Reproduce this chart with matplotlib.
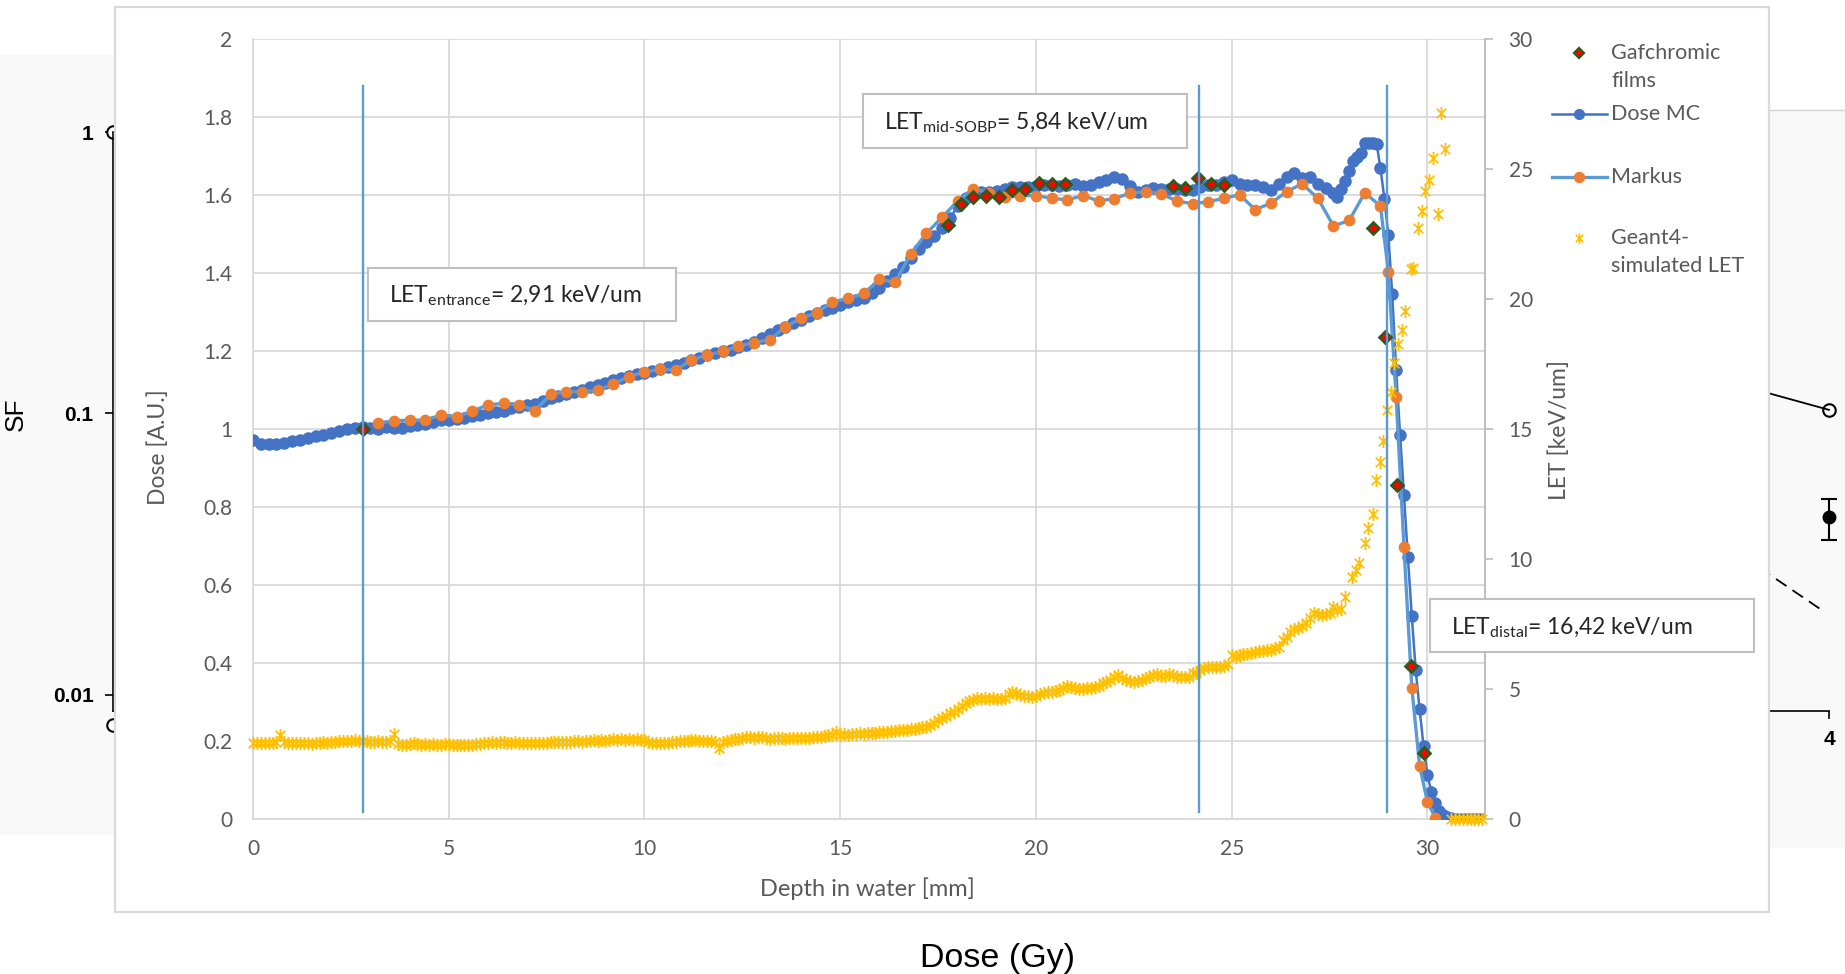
import numpy as np
import matplotlib
matplotlib.use("Agg")
import matplotlib.pyplot as plt
from matplotlib.path import Path
from matplotlib.patches import Rectangle
from matplotlib.lines import Line2D
from matplotlib.ticker import FuncFormatter

plt.rcParams['font.family'] = ['Lato', 'DejaVu Sans']
plt.rcParams['mathtext.fontset'] = 'custom'
plt.rcParams['mathtext.rm'] = 'Lato'
plt.rcParams['mathtext.it'] = 'Lato:italic'
plt.rcParams['mathtext.bf'] = 'Lato:bold'

# ------------------------------------------------------------------ data
# Monte Carlo dose (A.U.) vs depth in water (mm)
mc_depth_grid = np.round(np.arange(0.0, 27.61, 0.2), 1)
mc_dose_grid = [
    0.970, 0.962, 0.960, 0.962, 0.963, 0.968, 0.972, 0.975, 0.980, 0.985,
    0.990, 0.993, 0.998, 1.002, 1.004, 1.002, 1.000, 1.004, 1.003, 1.001,
    1.008, 1.010, 1.012, 1.018, 1.022, 1.023, 1.025, 1.028, 1.032, 1.035,
    1.040, 1.044, 1.046, 1.052, 1.056, 1.060, 1.063, 1.071, 1.078, 1.083,
    1.090, 1.094, 1.100, 1.108, 1.113, 1.118, 1.124, 1.129, 1.135, 1.140,
    1.144, 1.148, 1.153, 1.158, 1.163, 1.168, 1.175, 1.182, 1.188, 1.193,
    1.198, 1.203, 1.209, 1.214, 1.222, 1.232, 1.244, 1.253, 1.262, 1.270,
    1.279, 1.288, 1.296, 1.304, 1.310, 1.316, 1.325, 1.330, 1.336, 1.348,
    1.362, 1.378, 1.396, 1.415, 1.438, 1.462, 1.480, 1.495, 1.515, 1.540,
    1.570, 1.592, 1.604, 1.608, 1.606, 1.610, 1.615, 1.620, 1.621, 1.620,
    1.622, 1.624, 1.625, 1.622, 1.626, 1.628, 1.622, 1.625, 1.633, 1.638,
    1.645, 1.640, 1.622, 1.608, 1.612, 1.617, 1.614, 1.616, 1.614, 1.612,
    1.613, 1.620, 1.624, 1.626, 1.632, 1.638, 1.628, 1.624, 1.626, 1.620,
    1.612, 1.628, 1.646, 1.655, 1.644, 1.646, 1.628, 1.618, 1.605,
]
mc_depth_tail = [27.7, 27.8, 27.9, 28.0, 28.1, 28.2, 28.3, 28.4, 28.5, 28.6,
                 28.7, 28.8, 28.9, 29.0, 29.1, 29.2, 29.3, 29.4, 29.5, 29.6,
                 29.7, 29.8, 29.9, 30.0, 30.1, 30.2, 30.3, 30.4, 30.5, 30.6,
                 30.7, 30.8, 30.9, 31.0, 31.1, 31.2, 31.3, 31.4]
mc_dose_tail = [1.595, 1.615, 1.636, 1.662, 1.686, 1.697, 1.708, 1.732, 1.734, 1.733,
                1.731, 1.668, 1.590, 1.497, 1.345, 1.150, 0.985, 0.830, 0.670, 0.520,
                0.380, 0.280, 0.186, 0.112, 0.068, 0.039, 0.020, 0.010, 0.004, 0.001,
                0.0, 0.0, 0.0, 0.0, 0.0, 0.0, 0.0, 0.0]
mc_depth = np.concatenate([mc_depth_grid, mc_depth_tail])
mc_dose = np.concatenate([mc_dose_grid, mc_dose_tail])

# Markus chamber measurement
markus_depth = [3.2, 3.6, 4.0, 4.4, 4.8, 5.2, 5.6, 6.0, 6.4, 6.8,
                7.2, 7.6, 8.0, 8.4, 8.8, 9.2, 9.6, 10.0, 10.4, 10.8,
                11.2, 11.6, 12.0, 12.4, 12.8, 13.2, 13.6, 14.0, 14.4, 14.8,
                15.2, 15.6, 16.0, 16.4, 16.8, 17.2, 17.6, 18.0, 18.4, 18.8,
                19.2, 19.6, 20.0, 20.4, 20.8, 21.2, 21.6, 22.0, 22.4, 22.8,
                23.2, 23.6, 24.0, 24.4, 24.8, 25.2, 25.6, 26.0, 26.4, 26.8,
                27.2, 27.6, 28.0, 28.4, 28.8, 29.0, 29.2, 29.4, 29.6, 29.8,
                30.0, 30.2]
markus_dose = [1.015, 1.020, 1.022, 1.022, 1.035, 1.031, 1.045, 1.061, 1.065, 1.062,
               1.046, 1.088, 1.095, 1.095, 1.098, 1.115, 1.133, 1.146, 1.152, 1.151,
               1.176, 1.189, 1.198, 1.212, 1.221, 1.228, 1.262, 1.283, 1.298, 1.325,
               1.334, 1.347, 1.383, 1.375, 1.448, 1.501, 1.542, 1.584, 1.616, 1.605,
               1.593, 1.598, 1.598, 1.591, 1.587, 1.598, 1.584, 1.590, 1.604, 1.608,
               1.602, 1.584, 1.577, 1.582, 1.591, 1.600, 1.562, 1.578, 1.608, 1.628,
               1.591, 1.520, 1.534, 1.605, 1.571, 1.403, 1.082, 0.697, 0.336, 0.135,
               0.043, 0.002]

# Gafchromic film measurement
gaf_depth = [2.8, 17.76, 18.08, 18.4, 18.73, 19.06, 19.4, 19.73, 20.07, 20.4,
             20.73, 23.5, 23.81, 24.13, 24.47, 24.8, 28.61, 28.91, 29.23, 29.57,
             29.9]
gaf_dose = [1.000, 1.523, 1.576, 1.595, 1.597, 1.594, 1.612, 1.615, 1.631, 1.628,
            1.627, 1.623, 1.617, 1.644, 1.627, 1.624, 1.514, 1.234, 0.856, 0.391,
            0.169]

# Geant4 LET (keV/um), 0.1 mm bins up to 27.9 mm, then distal samples
let_depth_grid = np.round(np.arange(0.0, 27.95, 0.1), 1)
let_value_grid = [
    2.92, 2.90, 2.91, 2.89, 2.92, 2.90, 2.93, 3.22, 2.94, 2.91,
    2.90, 2.92, 2.89, 2.91, 2.90, 2.88, 2.90, 2.91, 2.93, 2.92,
    2.95, 2.96, 2.98, 2.97, 3.00, 2.99, 3.01, 2.98, 2.97, 2.98,
    2.96, 2.95, 2.98, 2.96, 2.94, 2.97, 3.26, 2.86, 2.82, 2.85,
    2.88, 2.90, 2.86, 2.84, 2.87, 2.85, 2.86, 2.84, 2.85, 2.87,
    2.86, 2.84, 2.83, 2.85, 2.83, 2.82, 2.84, 2.86, 2.88, 2.90,
    2.92, 2.94, 2.91, 2.93, 2.95, 2.92, 2.90, 2.93, 2.91, 2.90,
    2.92, 2.90, 2.91, 2.89, 2.90, 2.92, 2.94, 2.93, 2.95, 2.94,
    2.96, 2.95, 2.97, 2.98, 2.96, 3.00, 2.98, 3.01, 2.99, 3.02,
    3.00, 3.03, 3.05, 3.04, 3.06, 3.03, 3.05, 3.04, 3.06, 3.03,
    3.02, 2.95, 2.92, 2.90, 2.91, 2.89, 2.92, 2.94, 2.96, 2.98,
    3.00, 2.99, 3.01, 3.02, 3.00, 2.98, 2.97, 2.99, 2.96, 2.70,
    2.94, 2.98, 3.02, 3.05, 3.08, 3.12, 3.14, 3.13, 3.11, 3.14,
    3.15, 3.12, 3.08, 3.10, 3.11, 3.12, 3.08, 3.09, 3.10, 3.09,
    3.10, 3.12, 3.11, 3.14, 3.13, 3.15, 3.16, 3.20, 3.22, 3.34,
    3.22, 3.24, 3.23, 3.25, 3.26, 3.28, 3.27, 3.28, 3.30, 3.31,
    3.32, 3.33, 3.35, 3.36, 3.38, 3.41, 3.40, 3.42, 3.44, 3.46,
    3.48, 3.52, 3.54, 3.60, 3.68, 3.79, 3.86, 3.95, 4.05, 4.11,
    4.22, 4.34, 4.45, 4.52, 4.58, 4.63, 4.62, 4.64, 4.62, 4.63,
    4.61, 4.62, 4.64, 4.80, 4.88, 4.82, 4.76, 4.72, 4.70, 4.69,
    4.72, 4.78, 4.84, 4.88, 4.86, 4.90, 4.95, 5.02, 5.10, 5.08,
    5.04, 5.00, 4.99, 5.02, 5.01, 5.06, 5.12, 5.20, 5.24, 5.32,
    5.45, 5.53, 5.42, 5.32, 5.28, 5.27, 5.30, 5.34, 5.40, 5.46,
    5.53, 5.55, 5.50, 5.47, 5.56, 5.52, 5.46, 5.44, 5.46, 5.45,
    5.59, 5.62, 5.70, 5.78, 5.85, 5.84, 5.83, 5.85, 5.88, 5.95,
    6.29, 6.20, 6.30, 6.32, 6.35, 6.38, 6.42, 6.44, 6.45, 6.48,
    6.50, 6.55, 6.62, 6.88, 6.98, 7.19, 7.28, 7.32, 7.40, 7.51,
    7.70, 7.90, 7.86, 7.83, 7.88, 7.90, 8.15, 8.03, 8.05, 8.54,
]
let_depth_tail = [28.08, 28.17, 28.26, 28.41, 28.47, 28.61, 28.69, 28.79, 28.86, 28.97,
                  29.07, 29.15, 29.26, 29.35, 29.43, 29.58, 29.63, 29.75, 29.86, 29.94,
                  30.05, 30.13, 30.27, 30.35, 30.46, 30.6, 30.7, 30.8, 30.9, 31.0,
                  31.1, 31.2, 31.3, 31.4]
let_value_tail = [9.31, 9.55, 9.82, 10.62, 11.17, 11.72, 13.01, 13.71, 14.54, 15.72,
                  16.42, 17.52, 18.26, 18.81, 19.51, 21.15, 21.20, 22.72, 23.36, 24.15,
                  24.56, 25.40, 23.27, 27.13, 25.75, 0.0, 0.0, 0.0, 0.0, 0.0,
                  0.0, 0.0, 0.0, 0.0]
let_depth = np.concatenate([let_depth_grid, let_depth_tail])
let_value = np.concatenate([let_value_grid, let_value_tail])

# depths where LET is quoted, with the quoted text
let_marker_depths = [2.8, 24.17, 28.97]
let_notes = [r'LET$_{\text{entrance}}$= 2,91 keV/um',
             r'LET$_{\text{mid-SOBP}}$= 5,84 keV/um',
             r'LET$_{\text{distal}}$= 16,42 keV/um']

x_ticks = [0, 5, 10, 15, 20, 25, 30]
dose_ticks = [0, 0.2, 0.4, 0.6, 0.8, 1.0, 1.2, 1.4, 1.6, 1.8, 2.0]
let_ticks = [0, 5, 10, 15, 20, 25, 30]
legend_labels = [['Gafchromic', 'films'], ['Dose MC'], ['Markus'],
                 ['Geant4-', 'simulated LET']]

# survival-fraction panel underneath
sf_ticks = [0.01, 0.1, 1]
sf_tick_labels = ['0.01', '0.1', '1']
sf_open_dose = [0, 0, 4]
sf_open_sf = [1.0, 0.0078, 0.103]
sf_fit_dose = [3.8, 4.0]
sf_fit_sf = [0.125, 0.103]
sf_filled_dose = [4]
sf_filled_sf = [0.0428]
sf_filled_err = [[0.0073], [0.0069]]
sf_dash_dose = [3.8, 3.99]
sf_dash_sf = [0.031, 0.0197]

# ------------------------------------------------------------------ layout
W, H = 1845, 974
fig = plt.figure(figsize=(W / 100, H / 100), dpi=100)
fig.patch.set_facecolor('white')


def fx(px):
    return px / W


def fy(py):
    return 1 - py / H


def fig_box(x0, y0, x1, y1):
    return [x0 / W, 1 - y1 / H, (x1 - x0) / W, (y1 - y0) / H]


GRAY_TXT = '#595959'

# faint scanned background of the underlying figure
fig.add_artist(Rectangle((fx(0), fy(835)), fx(115), fy(55) - fy(835),
                         transform=fig.transFigure, facecolor='#f9f9f9',
                         edgecolor='none', zorder=-2))
fig.add_artist(Rectangle((fx(1769), fy(848)), fx(1845) - fx(1769), fy(110) - fy(848),
                         transform=fig.transFigure, facecolor='#f9f9f9',
                         edgecolor='none', zorder=-2))
fig.add_artist(Line2D([fx(1769), fx(1845)], [fy(110), fy(110)],
                      transform=fig.transFigure, color='#d4d4d4', lw=1.0, zorder=-1))

# survival-fraction axes
ax_sf = fig.add_axes(fig_box(113, 132, 1829, 711), zorder=0)
ax_sf.patch.set_visible(False)
ax_sf.set_yscale('log')
ax_sf.set_ylim(0.00877, 1.0)
ax_sf.set_xlim(0, 4)
ax_sf.set_yticks(sf_ticks)
ax_sf.set_yticklabels(sf_tick_labels)
ax_sf.yaxis.set_minor_locator(matplotlib.ticker.NullLocator())
ax_sf.set_xticks([1, 2, 3, 4])
ax_sf.set_xticklabels(['1', '2', '3', '4'])
for s in ['top', 'right']:
    ax_sf.spines[s].set_visible(False)
for s in ['left', 'bottom']:
    ax_sf.spines[s].set_linewidth(1.2)
ax_sf.tick_params(direction='out', length=6, width=1.2, pad=8,
                  labelsize=15, colors='black')
for lab in ax_sf.get_yticklabels() + ax_sf.get_xticklabels():
    lab.set_fontfamily('Liberation Sans')
    lab.set_fontweight('bold')
ax_sf.plot(sf_open_dose, sf_open_sf, ls='none', marker='o', ms=9, mfc='white',
           mec='black', mew=1.5, clip_on=False)
ax_sf.plot(sf_fit_dose, sf_fit_sf, color='black', lw=1.3, clip_on=False)
ax_sf.plot(sf_dash_dose, sf_dash_sf, color='black', lw=1.3, ls=(0, (7, 4)),
           clip_on=False)
ax_sf.errorbar(sf_filled_dose, sf_filled_sf, yerr=sf_filled_err, fmt='o',
               color='black', ms=9, capsize=6, elinewidth=1.5, capthick=1.5,
               clip_on=False)
fig.text(fx(16), fy(414), 'SF', rotation=90, ha='center', va='center',
         fontsize=19, family='Liberation Sans', color='black')
fig.text(fx(997), fy(967), 'Dose (Gy)', ha='center', va='baseline',
         fontsize=24.5, family='Liberation Sans', color='black')

# white chart frame on top of the survival panel
fig.add_artist(Rectangle((fx(115), fy(912)), fx(1769) - fx(115), fy(7) - fy(912),
                         transform=fig.transFigure, facecolor='white',
                         edgecolor='#d9d9d9', lw=1.6, zorder=1))

# ------------------------------------------------------------------ main chart
ax = fig.add_axes(fig_box(253, 38.8, 1485, 818.6), zorder=2)
ax.patch.set_visible(False)
ax.set_xlim(0, 31.47)
ax.set_ylim(0, 2)
ax.set_xticks(x_ticks)
ax.set_yticks(dose_ticks)
ax.yaxis.set_major_formatter(FuncFormatter(lambda v, p: '{:g}'.format(round(v, 1))))
ax.grid(True, color='#d9d9d9', lw=1.3)
ax.set_axisbelow(True)
for s in ['top', 'right']:
    ax.spines[s].set_visible(False)
for s in ['left', 'bottom']:
    ax.spines[s].set_color('#d9d9d9')
    ax.spines[s].set_linewidth(1.3)
ax.tick_params(axis='both', length=0, labelsize=15, labelcolor=GRAY_TXT)
ax.tick_params(axis='y', pad=15)
ax.tick_params(axis='x', pad=15)

ax.plot(mc_depth, mc_dose, color='#4472c4', lw=1.8, marker='o', ms=8,
        mfc='#4472c4', mec='#4472c4', zorder=3)
ax.plot(markus_depth, markus_dose, color='#5b9bd5', lw=2.4, marker='o', ms=7.4,
        mfc='#ed7d31', mec='#ed7d31', zorder=4)
ax.plot(gaf_depth, gaf_dose, ls='none', marker='D', ms=6.3, mfc='#ff0000',
        mec='#2f5a1c', mew=1.9, zorder=5)

ax2 = ax.twinx()
ax2.set_zorder(3)
ax2.patch.set_visible(False)
ax2.set_ylim(0, 30)
ax2.set_yticks(let_ticks)
for s in ['top', 'left', 'bottom']:
    ax2.spines[s].set_visible(False)
ax2.spines['right'].set_color('#bfbfbf')
ax2.spines['right'].set_linewidth(1.5)
ax2.tick_params(axis='y', direction='out', length=6, width=1.3, color='#bfbfbf',
                labelsize=15, labelcolor=GRAY_TXT, pad=11)

star = Path([(0, -1), (0, 1), (-0.72, -0.72), (0.72, 0.72), (-0.72, 0.72), (0.72, -0.72)],
            [Path.MOVETO, Path.LINETO, Path.MOVETO, Path.LINETO, Path.MOVETO, Path.LINETO])
ax2.plot(let_depth, let_value, ls='none', marker=star, ms=9.5, mec='#ffc000',
         mew=1.3, zorder=3, clip_on=False)

for d in let_marker_depths:
    ax2.axvline(d, ymin=0.0085, ymax=0.94, color='#5b9bd5', lw=1.7, zorder=6)

# annotation boxes
note_boxes = [(368, 268, 676, 321), (863, 94, 1187, 148), (1430, 599, 1754, 652)]
note_text_pos = [(389, 302), (884, 129), (1451, 634)]
for (x0, y0, x1, y1), (tx, ty), txt in zip(note_boxes, note_text_pos, let_notes):
    fig.add_artist(Rectangle((fx(x0), fy(y1)), fx(x1) - fx(x0), fy(y0) - fy(y1),
                             transform=fig.transFigure, facecolor='white',
                             edgecolor='#bfbfbf', lw=1.5, zorder=5))
    fig.text(fx(tx), fy(ty), txt, ha='left', va='baseline', fontsize=16.5,
             color='#262626', zorder=6)

# axis titles
fig.text(fx(158), fy(447), 'Dose [A.U.]', rotation=90, ha='center', va='center',
         fontsize=16.5, color=GRAY_TXT)
fig.text(fx(1559), fy(430), 'LET [keV/um]', rotation=90, ha='center', va='center',
         fontsize=16.5, color=GRAY_TXT)
fig.text(fx(867), fy(889), 'Depth in water [mm]', ha='center', va='center',
         fontsize=17, color=GRAY_TXT)

# legend
leg_rows = [53, 114, 177, 238]
leg_line = (1552, 1607)
leg_mark_x = 1579
leg_text_x = 1611
line_gap = 28


def legend_key(y, **kw):
    fig.add_artist(Line2D([fx(leg_line[0]), fx(leg_line[1])], [fy(y), fy(y)],
                          transform=fig.transFigure, zorder=6, **kw))


def legend_mark(y, **kw):
    fig.add_artist(Line2D([fx(leg_mark_x)], [fy(y)], ls='none',
                          transform=fig.transFigure, zorder=7, **kw))


legend_mark(leg_rows[0], marker='D', ms=5.0, mfc='#ff0000', mec='#2f5a1c', mew=1.6)
legend_key(leg_rows[1], color='#4472c4', lw=1.8)
legend_mark(leg_rows[1], marker='o', ms=7, mfc='#4472c4', mec='#4472c4')
legend_key(leg_rows[2], color='#5b9bd5', lw=2.4)
legend_mark(leg_rows[2], marker='o', ms=7.2, mfc='#ed7d31', mec='#ed7d31')
legend_mark(leg_rows[3], marker=star, ms=7.5, mec='#ffc000', mew=1.2)

for y, lines in zip(leg_rows, legend_labels):
    for i, t in enumerate(lines):
        fig.text(fx(leg_text_x), fy(y + i * line_gap), t, ha='left', va='center',
                 fontsize=15.5, color=GRAY_TXT, zorder=7)

fig.savefig('out.png', dpi=100)
